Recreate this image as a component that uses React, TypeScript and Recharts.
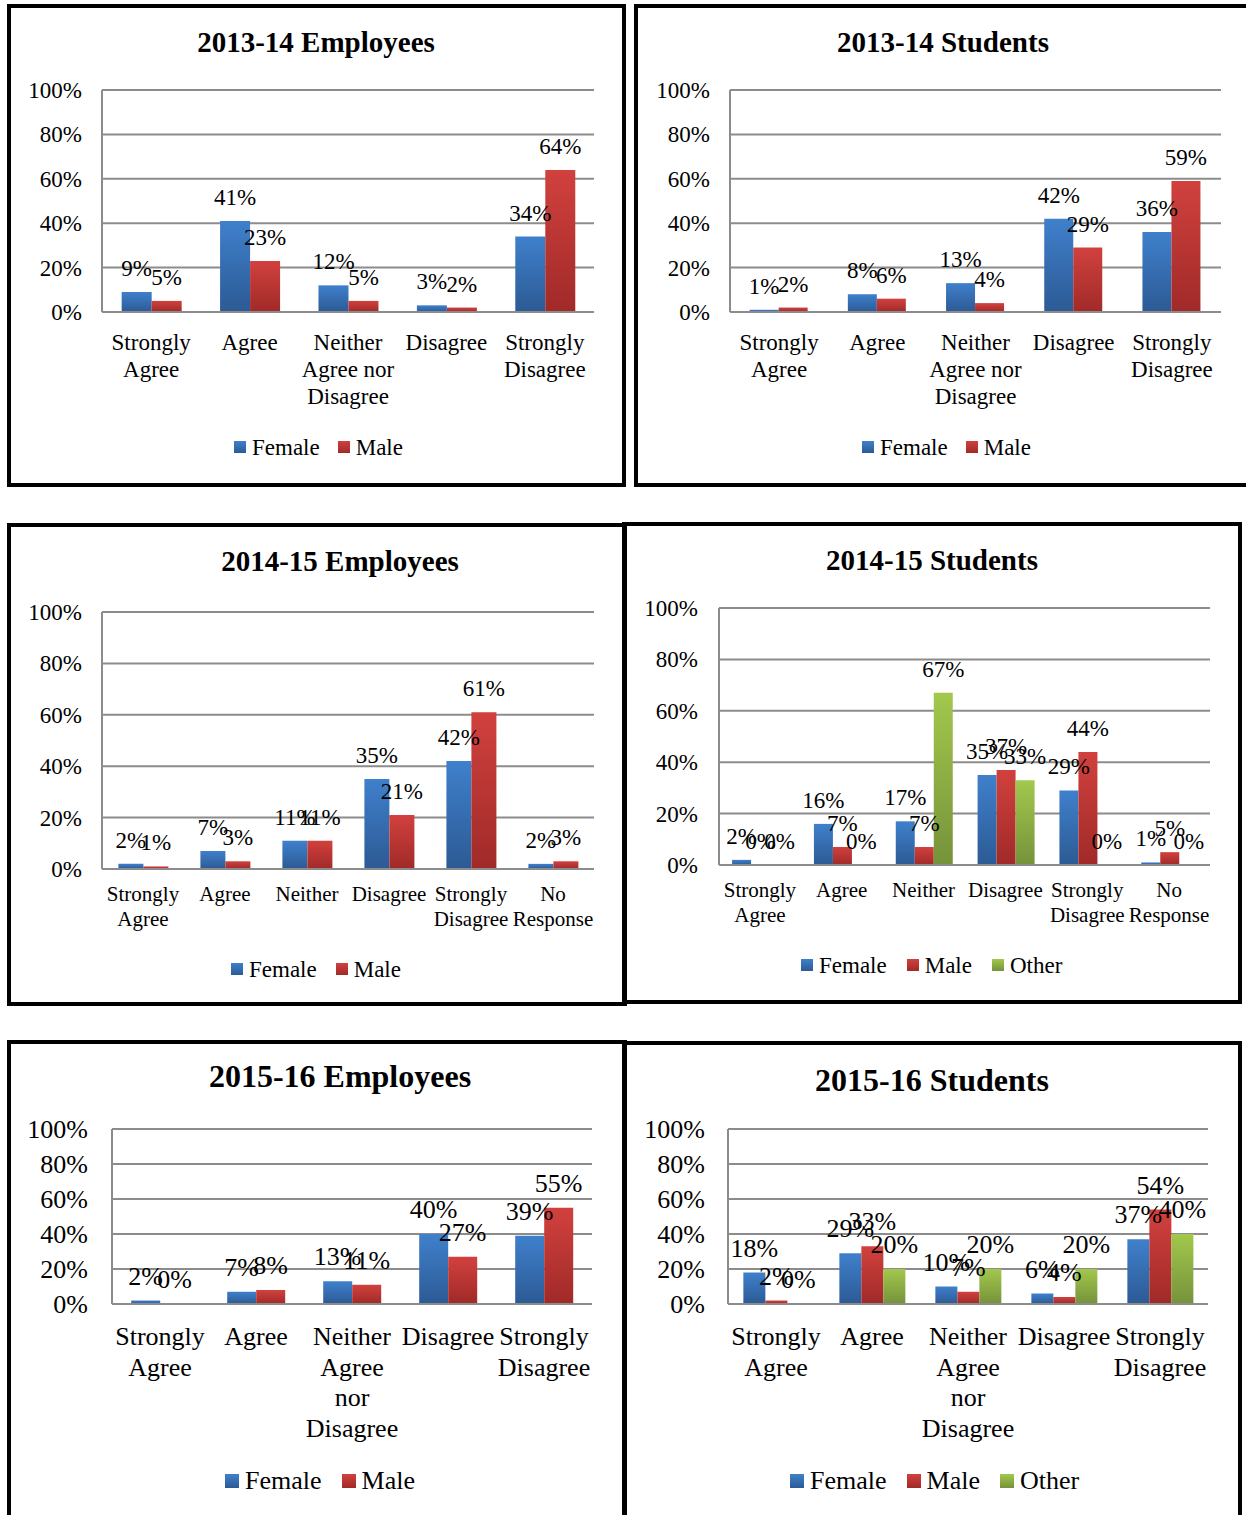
import { BarChart, Bar, XAxis, YAxis, CartesianGrid, LabelList } from 'recharts'

const SERIF = '"Liberation Serif", "Times New Roman", serif'
const GRID = '#8c8c8c'

// top/bottom of each bar gradient
const COLORS: Record<string, [string, string]> = {
  Female: ['#3f80cc', '#2c5a94'],
  Male: ['#d1413e', '#a02a28'],
  Other: ['#a2c84c', '#76923a'],
}

const yTicks = [0, 20, 40, 60, 80, 100]

const cats1314 = ['Strongly\nAgree', 'Agree', 'Neither\nAgree nor\nDisagree', 'Disagree', 'Strongly\nDisagree']
const cats1415 = ['Strongly\nAgree', 'Agree', 'Neither', 'Disagree', 'Strongly\nDisagree', 'No\nResponse']
const cats1516 = ['Strongly\nAgree', 'Agree', 'Neither\nAgree\nnor\nDisagree', 'Disagree', 'Strongly\nDisagree']

const emp1314Female = [9, 41, 12, 3, 34]
const emp1314Male = [5, 23, 5, 2, 64]
const stu1314Female = [1, 8, 13, 42, 36]
const stu1314Male = [2, 6, 4, 29, 59]

const emp1415Female = [2, 7, 11, 35, 42, 2]
const emp1415Male = [1, 3, 11, 21, 61, 3]
const stu1415Female = [2, 16, 17, 35, 29, 1]
const stu1415Male = [0, 7, 7, 37, 44, 5]
const stu1415Other = [0, 0, 67, 33, 0, 0]

const emp1516Female = [2, 7, 13, 40, 39]
const emp1516Male = [0, 8, 11, 27, 55]
const stu1516Female = [18, 29, 10, 6, 37]
const stu1516Male = [2, 33, 7, 4, 54]
const stu1516Other = [0, 20, 20, 20, 40]

type Series = { name: string; values: number[] }

type PanelCfg = {
  id: string
  title: string
  box: { left: number; top: number; w: number; h: number }
  titlePos: { x: number; y: number; size: number }
  plot: { x0: number; x1: number; y0: number; y1: number }
  tickSize: number
  tickGap: number
  catSize: number
  catDy: number
  lineH: number
  labelSize: number
  gap: string
  legend: { x: number; y: number; size: number; sq: number; gap: number }
  categories: string[]
  series: Series[]
}

const panels: PanelCfg[] = [
  {
    id: 'e1314', title: '2013-14 Employees',
    box: { left: 7, top: 4, w: 619, h: 483 },
    titlePos: { x: 316, y: 42, size: 29 },
    plot: { x0: 102, x1: 594, y0: 90, y1: 312 },
    tickSize: 23, tickGap: 20, catSize: 23, catDy: 30, lineH: 27, labelSize: 23, gap: '20%',
    legend: { x: 234, y: 447, size: 23, sq: 12, gap: 18 },
    categories: cats1314,
    series: [{ name: 'Female', values: emp1314Female }, { name: 'Male', values: emp1314Male }],
  },
  {
    id: 's1314', title: '2013-14 Students',
    box: { left: 634, top: 4, w: 620, h: 483 },
    titlePos: { x: 943, y: 42, size: 29 },
    plot: { x0: 730, x1: 1221, y0: 90, y1: 312 },
    tickSize: 23, tickGap: 20, catSize: 23, catDy: 30, lineH: 27, labelSize: 23, gap: '20%',
    legend: { x: 862, y: 447, size: 23, sq: 12, gap: 18 },
    categories: cats1314,
    series: [{ name: 'Female', values: stu1314Female }, { name: 'Male', values: stu1314Male }],
  },
  {
    id: 'e1415', title: '2014-15 Employees',
    box: { left: 7, top: 523, w: 620, h: 483 },
    titlePos: { x: 340, y: 561, size: 29 },
    plot: { x0: 102, x1: 594, y0: 612, y1: 869 },
    tickSize: 23, tickGap: 20, catSize: 21, catDy: 25, lineH: 25, labelSize: 23, gap: '20%',
    legend: { x: 231, y: 969, size: 23, sq: 12, gap: 19 },
    categories: cats1415,
    series: [{ name: 'Female', values: emp1415Female }, { name: 'Male', values: emp1415Male }],
  },
  {
    id: 's1415', title: '2014-15 Students',
    box: { left: 622, top: 522, w: 620, h: 482 },
    titlePos: { x: 932, y: 560, size: 29 },
    plot: { x0: 719, x1: 1210, y0: 608, y1: 865 },
    tickSize: 23, tickGap: 21, catSize: 21, catDy: 25, lineH: 25, labelSize: 23, gap: '16%',
    legend: { x: 801, y: 965, size: 23, sq: 12, gap: 20 },
    categories: cats1415,
    series: [
      { name: 'Female', values: stu1415Female },
      { name: 'Male', values: stu1415Male },
      { name: 'Other', values: stu1415Other },
    ],
  },
  {
    id: 'e1516', title: '2015-16 Employees',
    box: { left: 7, top: 1040, w: 620, h: 490 },
    titlePos: { x: 340, y: 1076, size: 32 },
    plot: { x0: 112, x1: 592, y0: 1129, y1: 1304 },
    tickSize: 26, tickGap: 24, catSize: 26, catDy: 32, lineH: 30.5, labelSize: 26, gap: '20%',
    legend: { x: 225, y: 1481, size: 26, sq: 14, gap: 20 },
    categories: cats1516,
    series: [{ name: 'Female', values: emp1516Female }, { name: 'Male', values: emp1516Male }],
  },
  {
    id: 's1516', title: '2015-16 Students',
    box: { left: 622, top: 1041, w: 620, h: 490 },
    titlePos: { x: 932, y: 1080, size: 32 },
    plot: { x0: 728, x1: 1208, y0: 1129, y1: 1304 },
    tickSize: 26, tickGap: 23, catSize: 26, catDy: 32, lineH: 30.5, labelSize: 26, gap: '16%',
    legend: { x: 790, y: 1481, size: 26, sq: 14, gap: 20 },
    categories: cats1516,
    series: [
      { name: 'Female', values: stu1516Female },
      { name: 'Male', values: stu1516Male },
      { name: 'Other', values: stu1516Other },
    ],
  },
]

function Panel({ cfg }: { cfg: PanelCfg }) {
  const { plot } = cfg
  const yAxisW = 100
  const marginTop = 40
  const marginRight = 30
  const axisH = 140
  const chartLeft = plot.x0 - yAxisW
  const chartTop = plot.y0 - marginTop
  const width = plot.x1 - chartLeft + marginRight
  const height = plot.y1 - chartTop + axisH

  const rows = cfg.categories.map((cat, i) => {
    const r: any = { cat }
    cfg.series.forEach((s) => (r[s.name] = s.values[i]))
    return r
  })

  const catTick = (props: any) => {
    const { x, y, payload } = props
    const lines = String(payload.value).split('\n')
    return (
      <text x={x} y={y} textAnchor="middle" fontFamily={SERIF} fontSize={cfg.catSize} fill="#000">
        {lines.map((l, i) => (
          <tspan key={i} x={x} y={y + cfg.catDy + i * cfg.lineH} dy="0.35em">
            {l}
          </tspan>
        ))}
      </text>
    )
  }

  const valueTick = (props: any) => {
    const { x, y, payload } = props
    return (
      <text x={x} y={y} dy="0.35em" textAnchor="end" fontFamily={SERIF} fontSize={cfg.tickSize} fill="#000">
        {`${payload.value}%`}
      </text>
    )
  }

  const barLabel = (props: any) => {
    const { x, y, width: w, value } = props
    return (
      <text x={x + w / 2} y={y - 16} textAnchor="middle" fontFamily={SERIF} fontSize={cfg.labelSize} fill="#000">
        {`${value}%`}
      </text>
    )
  }

  return (
    <>
      <div
        style={{
          position: 'absolute', left: cfg.box.left, top: cfg.box.top, width: cfg.box.w, height: cfg.box.h,
          border: '4px solid #000', boxSizing: 'border-box',
        }}
      />
      <div
        style={{
          position: 'absolute', left: cfg.titlePos.x - 300, width: 600, top: cfg.titlePos.y - cfg.titlePos.size / 2,
          fontSize: cfg.titlePos.size, lineHeight: `${cfg.titlePos.size}px`, fontWeight: 'bold',
          textAlign: 'center', fontFamily: SERIF, color: '#000',
        }}
      >
        {cfg.title}
      </div>
      <div style={{ position: 'absolute', left: chartLeft, top: chartTop, fontFamily: SERIF }}>
        <BarChart
          width={width}
          height={height}
          data={rows}
          margin={{ top: marginTop, right: marginRight, left: 0, bottom: 0 }}
          barGap={0}
          barCategoryGap={cfg.gap}
        >
          <defs>
            {cfg.series.map((s) => (
              <linearGradient key={s.name} id={`${cfg.id}-${s.name}`} x1="0" y1="0" x2="0" y2="1">
                <stop offset="0%" stopColor={COLORS[s.name][0]} />
                <stop offset="100%" stopColor={COLORS[s.name][1]} />
              </linearGradient>
            ))}
          </defs>
          <CartesianGrid vertical={false} stroke={GRID} strokeWidth={2} />
          {cfg.series.map((s) => (
            // minPointSize keeps the zero-value entries so their "0%" labels still appear
            <Bar
              key={s.name}
              dataKey={s.name}
              fill={`url(#${cfg.id}-${s.name})`}
              minPointSize={0.5}
              isAnimationActive={false}
            >
              <LabelList dataKey={s.name} content={barLabel} />
            </Bar>
          ))}
          <XAxis
            dataKey="cat"
            height={axisH}
            interval={0}
            tickLine={false}
            tickSize={0}
            tickMargin={0}
            axisLine={{ stroke: GRID, strokeWidth: 2 }}
            tick={catTick}
          />
          <YAxis
            width={yAxisW}
            domain={[0, 100]}
            ticks={yTicks}
            tickLine={false}
            tickSize={0}
            tickMargin={cfg.tickGap}
            axisLine={{ stroke: GRID, strokeWidth: 2 }}
            tick={valueTick}
          />
        </BarChart>
      </div>
      <div
        style={{
          position: 'absolute', left: cfg.legend.x, top: cfg.legend.y - cfg.legend.size / 2, height: cfg.legend.size,
          display: 'flex', alignItems: 'center', fontFamily: SERIF, fontSize: cfg.legend.size,
          lineHeight: `${cfg.legend.size}px`, whiteSpace: 'nowrap', color: '#000',
        }}
      >
        {cfg.series.map((s) => (
          <span key={s.name} style={{ display: 'flex', alignItems: 'center' }}>
            <span
              style={{
                display: 'inline-block', width: cfg.legend.sq, height: cfg.legend.sq,
                background: `linear-gradient(${COLORS[s.name][0]}, ${COLORS[s.name][1]})`,
              }}
            />
            <span style={{ marginLeft: 6, marginRight: cfg.legend.gap }}>{s.name}</span>
          </span>
        ))}
      </div>
    </>
  )
}

export default function App() {
  return (
    <div
      style={{
        position: 'absolute', left: 0, top: 0, width: 1246, height: 1515,
        overflow: 'hidden', background: '#fff', fontFamily: SERIF,
      }}
    >
      {panels.map((p) => (
        <Panel key={p.id} cfg={p} />
      ))}
    </div>
  )
}
